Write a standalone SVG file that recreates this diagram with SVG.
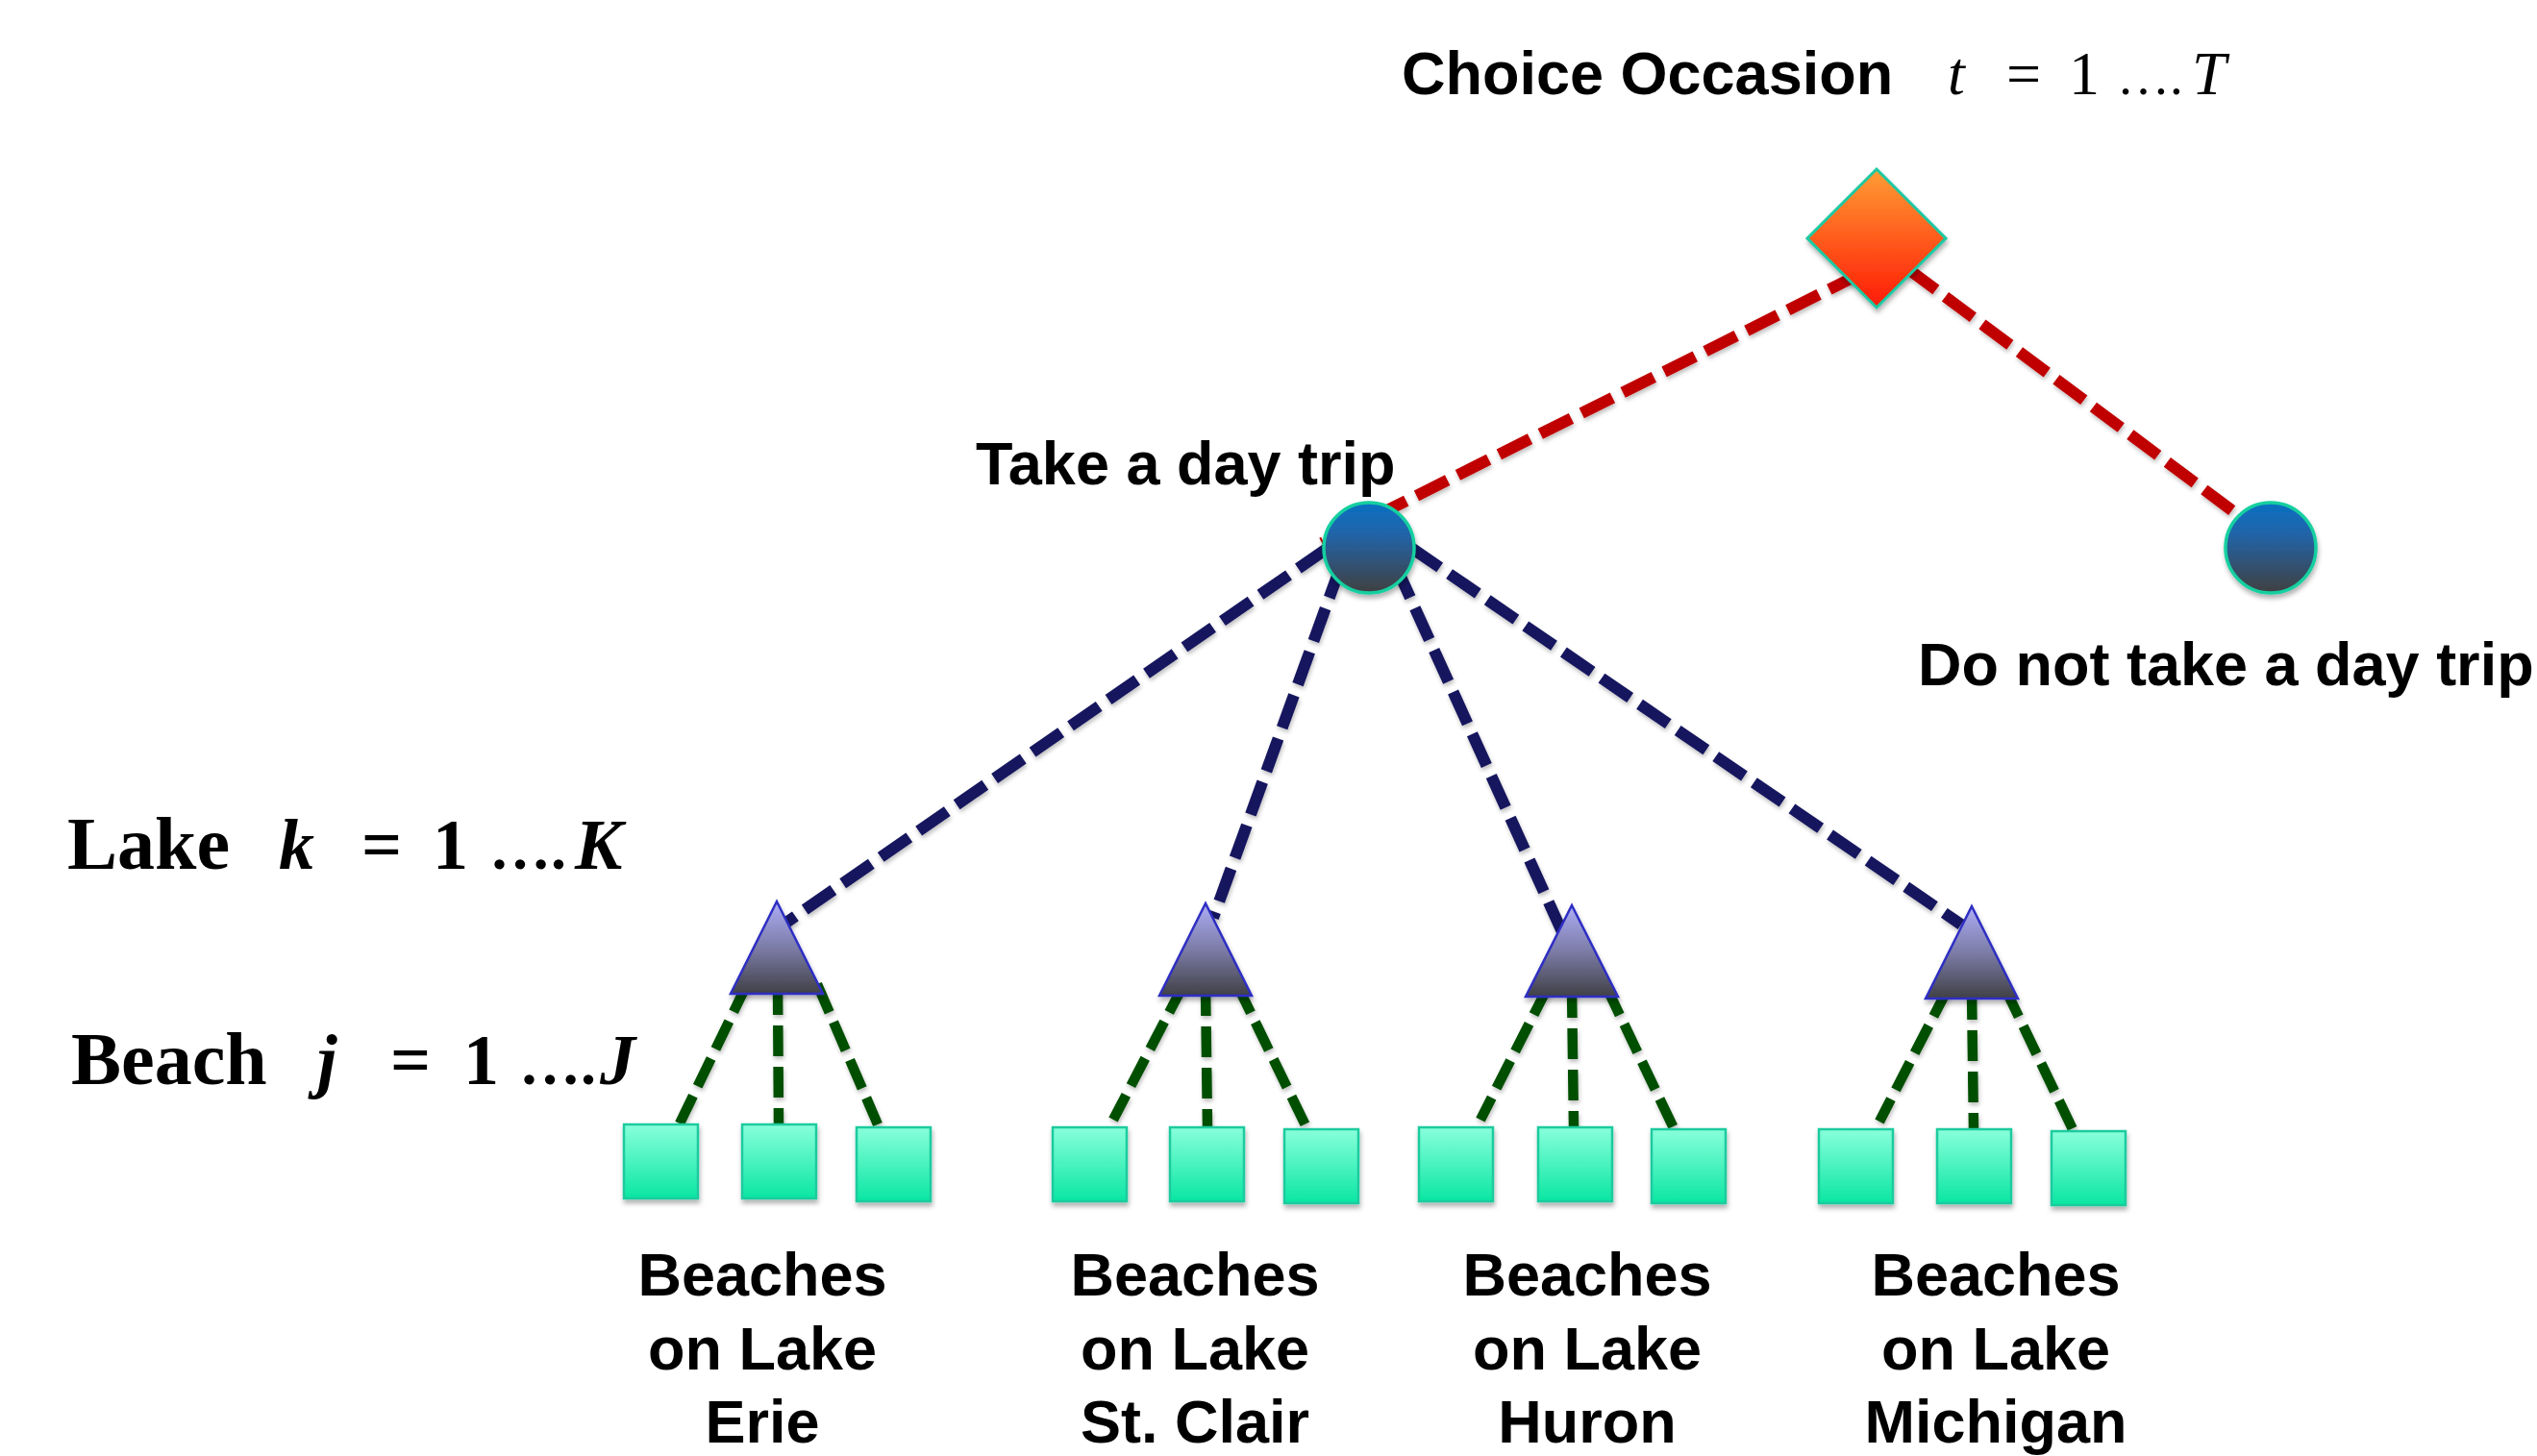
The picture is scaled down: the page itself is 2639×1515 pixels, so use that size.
<svg xmlns="http://www.w3.org/2000/svg" width="2639" height="1515" viewBox="0 0 2639 1515">
<defs>
<linearGradient id="gDiamond" x1="0" y1="0" x2="0" y2="1">
<stop offset="0" stop-color="#FF9E35"/>
<stop offset="1" stop-color="#FF1A05"/>
</linearGradient>
<linearGradient id="gCircle" x1="0" y1="0" x2="0" y2="1">
<stop offset="0" stop-color="#0A70C2"/>
<stop offset="0.35" stop-color="#2264A8"/>
<stop offset="1" stop-color="#404040"/>
</linearGradient>
<linearGradient id="gTri" x1="0" y1="0" x2="0" y2="1">
<stop offset="0" stop-color="#ADADF5"/>
<stop offset="0.5" stop-color="#7C7CA8"/>
<stop offset="1" stop-color="#404046"/>
</linearGradient>
<linearGradient id="gSq" x1="0" y1="0" x2="0" y2="1">
<stop offset="0" stop-color="#88FFDB"/>
<stop offset="1" stop-color="#0AE6A2"/>
</linearGradient>
<filter id="shadow" x="-20%" y="-20%" width="140%" height="150%">
<feDropShadow dx="1" dy="4" stdDeviation="2.5" flood-color="#000" flood-opacity="0.3"/>
</filter>
<filter id="lshadow" x="-5%" y="-5%" width="110%" height="110%">
<feDropShadow dx="1" dy="3" stdDeviation="2" flood-color="#000" flood-opacity="0.25"/>
</filter>
</defs>
<style>
.lbl{font-family:"Liberation Sans",Arial,sans-serif;font-weight:bold;font-size:63px;fill:#000}
.ctr{text-anchor:middle}
.lvl{font-family:"Liberation Serif","Times New Roman",serif;font-weight:bold;font-size:78px;fill:#000}
.m{font-family:"Liberation Serif","Times New Roman",serif;font-size:74px;font-weight:bold;fill:#000}
.mi{font-style:italic}
.md{font-size:64px}
.mr{font-family:"Liberation Serif","Times New Roman",serif;font-size:64px;font-weight:normal;fill:#000}
.mrd{font-size:55px}
.red{stroke:#C00000;stroke-width:12;stroke-dasharray:36 12;fill:none}
.blue{stroke:#17175E;stroke-width:12;stroke-dasharray:36 12;fill:none}
.green{stroke:#034F03;stroke-width:10.5;stroke-dasharray:32 11;fill:none}
.diamond{fill:url(#gDiamond);stroke:#1DC9A2;stroke-width:3}
.circ{fill:url(#gCircle);stroke:#14CFA0;stroke-width:3.5}
.tri{fill:url(#gTri);stroke:#2F2FC4;stroke-width:2.5}
.sq{fill:url(#gSq);stroke:#1CCB9E;stroke-width:2.5}
</style>
<rect width="2639" height="1515" fill="#FFFFFF"/>

<g id="connectors" filter="url(#lshadow)">
<line class="red" x1="1935" y1="285" x2="1375" y2="565"/>
<line class="red" x1="1985" y1="280" x2="2335" y2="541"/>
<line class="blue" x1="1380" y1="571" x2="812" y2="964"/>
<line class="blue" x1="1395" y1="588" x2="1262" y2="955"/>
<line class="blue" x1="1452" y1="589" x2="1626" y2="972"/>
<line class="blue" x1="1468" y1="570" x2="2040" y2="962"/>
<line class="green" x1="777" y1="1024" x2="707" y2="1169"/>
<line class="green" x1="809" y1="1024" x2="810" y2="1170"/>
<line class="green" x1="850" y1="1024" x2="913" y2="1170"/>
<line class="green" x1="1231" y1="1025" x2="1158" y2="1165"/>
<line class="green" x1="1254" y1="1025" x2="1256" y2="1173"/>
<line class="green" x1="1287" y1="1025" x2="1359" y2="1173"/>
<line class="green" x1="1610" y1="1027" x2="1540" y2="1165"/>
<line class="green" x1="1635" y1="1027" x2="1637" y2="1173"/>
<line class="green" x1="1671" y1="1027" x2="1741" y2="1174"/>
<line class="green" x1="2026" y1="1029" x2="1955" y2="1167"/>
<line class="green" x1="2051" y1="1029" x2="2053" y2="1175"/>
<line class="green" x1="2086" y1="1029" x2="2157" y2="1177"/>
</g>

<g id="choice-occasion">
<polygon class="diamond" filter="url(#shadow)" points="1952,176 2024,248 1952,320 1880,248"/>
<text class="lbl" x="1458" y="98">Choice Occasion</text>
<text y="98"><tspan class="mr mi" x="2026">t</tspan><tspan class="mr" x="2087">=</tspan><tspan class="mr" x="2152">1</tspan><tspan class="mr mrd" x="2202">….</tspan><tspan class="mr mi" x="2280">T</tspan></text>
</g>

<g id="take-trip">
<circle class="circ" filter="url(#shadow)" cx="1424" cy="570" r="47"/>
<text class="lbl" x="1015" y="504">Take a day trip</text>
</g>

<g id="no-trip">
<circle class="circ" filter="url(#shadow)" cx="2362" cy="570" r="47"/>
<text class="lbl" x="1995" y="713">Do not take a day trip</text>
</g>

<g id="level-lake">
<text class="lvl" x="70" y="904">Lake</text>
<text y="904"><tspan class="m mi" x="290">k</tspan><tspan class="m" x="376">=</tspan><tspan class="m" x="450">1</tspan><tspan class="m md" x="509">….</tspan><tspan class="m mi" x="598">K</tspan></text>
</g>

<g id="level-beach">
<text class="lvl" x="74" y="1128">Beach</text>
<text y="1128"><tspan class="m mi" x="330">j</tspan><tspan class="m" x="406">=</tspan><tspan class="m" x="482">1</tspan><tspan class="m md" x="540">….</tspan><tspan class="m mi" x="624">J</tspan></text>
</g>

<g id="lake-erie">
<polygon class="tri" filter="url(#shadow)" points="808,938 856,1034 760,1034"/>
<rect class="sq" filter="url(#shadow)" x="649" y="1170" width="77" height="77"/>
<rect class="sq" filter="url(#shadow)" x="772" y="1170" width="77" height="77"/>
<rect class="sq" filter="url(#shadow)" x="891" y="1173" width="77" height="77"/>
<text class="lbl ctr" x="793"><tspan x="793" y="1348">Beaches</tspan><tspan x="793" y="1425">on Lake</tspan><tspan x="793" y="1501">Erie</tspan></text>
</g>

<g id="lake-st-clair">
<polygon class="tri" filter="url(#shadow)" points="1254,940 1302,1036 1206,1036"/>
<rect class="sq" filter="url(#shadow)" x="1095" y="1173" width="77" height="77"/>
<rect class="sq" filter="url(#shadow)" x="1217" y="1173" width="77" height="77"/>
<rect class="sq" filter="url(#shadow)" x="1336" y="1175" width="77" height="77"/>
<text class="lbl ctr" x="1243"><tspan x="1243" y="1348">Beaches</tspan><tspan x="1243" y="1425">on Lake</tspan><tspan x="1243" y="1501">St. Clair</tspan></text>
</g>

<g id="lake-huron">
<polygon class="tri" filter="url(#shadow)" points="1635,942 1683,1037 1587,1037"/>
<rect class="sq" filter="url(#shadow)" x="1476" y="1173" width="77" height="77"/>
<rect class="sq" filter="url(#shadow)" x="1600" y="1173" width="77" height="77"/>
<rect class="sq" filter="url(#shadow)" x="1718" y="1175" width="77" height="77"/>
<text class="lbl ctr" x="1651"><tspan x="1651" y="1348">Beaches</tspan><tspan x="1651" y="1425">on Lake</tspan><tspan x="1651" y="1501">Huron</tspan></text>
</g>

<g id="lake-michigan">
<polygon class="tri" filter="url(#shadow)" points="2051,943 2099,1039 2003,1039"/>
<rect class="sq" filter="url(#shadow)" x="1892" y="1175" width="77" height="77"/>
<rect class="sq" filter="url(#shadow)" x="2015" y="1175" width="77" height="77"/>
<rect class="sq" filter="url(#shadow)" x="2134" y="1177" width="77" height="77"/>
<text class="lbl ctr" x="2076"><tspan x="2076" y="1348">Beaches</tspan><tspan x="2076" y="1425">on Lake</tspan><tspan x="2076" y="1501">Michigan</tspan></text>
</g>
</svg>
